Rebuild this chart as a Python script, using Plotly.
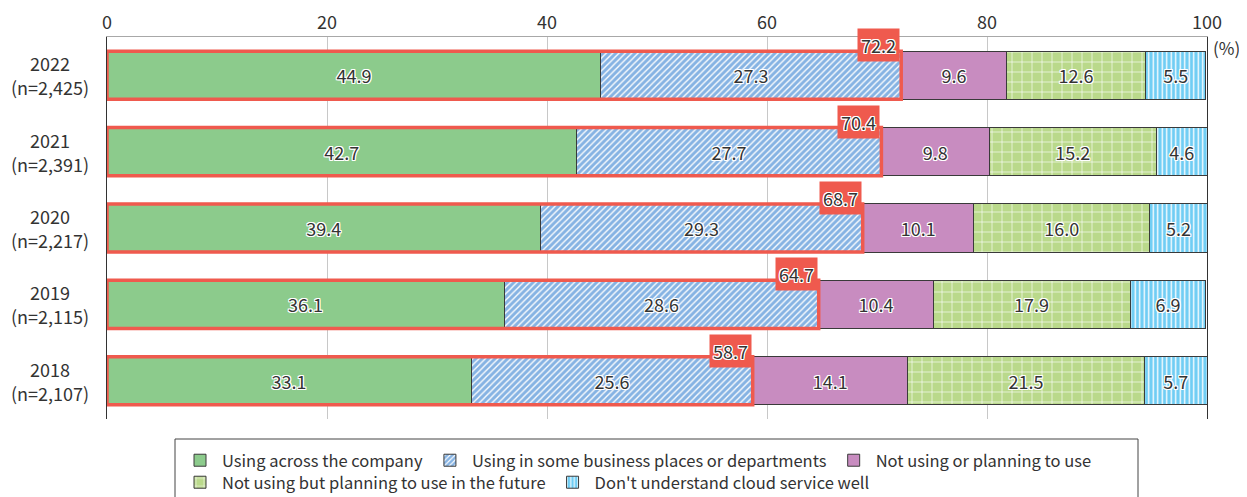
import plotly.graph_objects as go

years = ["2022", "2021", "2020", "2019", "2018"]
sample_sizes = ["n=2,425", "n=2,391", "n=2,217", "n=2,115", "n=2,107"]

series_names = [
    "Using across the company",
    "Using in some business places or departments",
    "Not using or planning to use",
    "Not using but planning to use in the future",
    "Don't understand cloud service well",
]
using_across = [44.9, 42.7, 39.4, 36.1, 33.1]
using_some = [27.3, 27.7, 29.3, 28.6, 25.6]
not_using = [9.6, 9.8, 10.1, 10.4, 14.1]
planning = [12.6, 15.2, 16.0, 17.9, 21.5]
dont_understand = [5.5, 4.6, 5.2, 6.9, 5.7]
x_ticks = [0, 20, 40, 60, 80, 100]

FONT = "Noto Sans CJK JP"
TXT = "#333333"
HALO = ("1px 1px 0 #fff, -1px -1px 0 #fff, 1px -1px 0 #fff, -1px 1px 0 #fff, "
        "0 1px 0 #fff, 0 -1px 0 #fff, 1px 0 0 #fff, -1px 0 0 #fff")
RED = "#ef5a4e"
BAR_W = 0.63

# page offset compensation (browser body margin of 8px)
OFF = 8
PL, PR, PT, PB = 107, 1207, 37, 419   # plot area in page pixels
W, H = 1247, 497
PW, PH = PR - PL, PB - PT


def px_x(px):
    return (px - PL) / PW


def px_y(py):
    return (PB - py) / PH


styles = [
    dict(color="#8ccb8c", pattern=dict(shape="")),
    dict(color="#86b3e3", pattern=dict(shape="/", fgcolor="#ffffff", bgcolor="#86b3e3", size=4.5, solidity=0.3, fillmode="replace")),
    dict(color="#c88cc0", pattern=dict(shape="")),
    dict(color="#bad98b", pattern=dict(shape="+", fgcolor="#ffffff", bgcolor="#bad98b", size=10, solidity=0.12, fillmode="replace")),
    dict(color="#6fcdf4", pattern=dict(shape="|", fgcolor="#ffffff", bgcolor="#6fcdf4", size=4.5, solidity=0.3, fillmode="replace")),
]
legend_ids = ["legend", "legend", "legend", "legend2", "legend2"]

all_series = [using_across, using_some, not_using, planning, dont_understand]

fig = go.Figure()
for name, vals, st, lg in zip(series_names, all_series, styles, legend_ids):
    fig.add_trace(go.Bar(
        y=years, x=vals, name=name, orientation="h", width=BAR_W, legend=lg,
        marker=dict(color=st["color"], pattern=st["pattern"], line=dict(color="#3a3a3a", width=1)),
        text=[f"{v:.1f}" for v in vals],
        textposition="inside", insidetextanchor="middle", textangle=0,
        constraintext="none",
        textfont=dict(family=FONT, size=18, color=TXT, shadow=HALO),
        hoverinfo="skip",
    ))

shapes = []
annotations = []
for i, yr in enumerate(years):
    total = using_across[i] + using_some[i]
    shapes.append(dict(type="rect", xref="x", yref="y", x0=0, x1=total,
                       y0=i - BAR_W / 2, y1=i + BAR_W / 2,
                       line=dict(color=RED, width=3.5), fillcolor="rgba(0,0,0,0)", layer="above"))
    annotations.append(dict(xref="x", yref="y", x=total, y=i - BAR_W / 2, xanchor="right", yanchor="middle",
                            xshift=-1, yshift=6, text=f"{total:.1f}", showarrow=False, bgcolor=RED, borderpad=3,
                            font=dict(family=FONT, size=18, color=TXT, shadow=HALO)))
    annotations.append(dict(xref="paper", yref="y", x=0, y=i, xanchor="center", yanchor="middle",
                            xshift=-57, yshift=12, showarrow=False, text=yr,
                            font=dict(family=FONT, size=18, color=TXT)))
    annotations.append(dict(xref="paper", yref="y", x=0, y=i, xanchor="center", yanchor="middle",
                            xshift=-57, yshift=-12, showarrow=False, text=f"({sample_sizes[i]})",
                            font=dict(family=FONT, size=18, color=TXT)))

annotations.append(dict(xref="paper", yref="paper", x=1, y=1, xanchor="left", yanchor="top",
                        xshift=4, yshift=4, text="(%)", showarrow=False,
                        font=dict(family=FONT, size=17, color=TXT)))

# legend frame
shapes.append(dict(type="rect", xref="paper", yref="paper", x0=px_x(175), x1=px_x(1138),
                   y0=px_y(560), y1=px_y(439), line=dict(color="#444444", width=1),
                   fillcolor="rgba(0,0,0,0)", layer="above"))

legend_common = dict(orientation="h", xanchor="left", yanchor="top", borderwidth=0,
                     bgcolor="rgba(0,0,0,0)", font=dict(family=FONT, size=16.5, color=TXT),
                     traceorder="normal", itemwidth=34)

fig.update_layout(
    width=W, height=H,
    margin=dict(l=PL - OFF, r=W - (PR - OFF), t=PT - OFF, b=H - (PB - OFF), autoexpand=False),
    barmode="stack",
    plot_bgcolor="white", paper_bgcolor="white",
    font=dict(family=FONT, size=17, color=TXT),
    uniformtext=dict(mode="show", minsize=18),
    shapes=shapes, annotations=annotations,
    showlegend=True,
    legend=dict(x=px_x(178), y=px_y(443), **legend_common),
    legend2=dict(x=px_x(178), y=px_y(465), **legend_common),
)
fig.update_xaxes(side="top", range=[0, 100], tickvals=x_ticks, ticktext=[str(t) for t in x_ticks],
                 showgrid=True, gridcolor="#c8c8c8", gridwidth=1, zeroline=False,
                 showline=True, linecolor="#a8a8a8", linewidth=1, ticks="", ticklen=0,
                 ticklabelstandoff=0,
                 tickfont=dict(family=FONT, size=18, color=TXT))
fig.update_yaxes(type="category", categoryorder="array", categoryarray=years, autorange="reversed",
                 showticklabels=False, showgrid=False, zeroline=False,
                 showline=True, linecolor="#333333", linewidth=1, mirror=True, ticks="")

fig.write_html("out.html")
